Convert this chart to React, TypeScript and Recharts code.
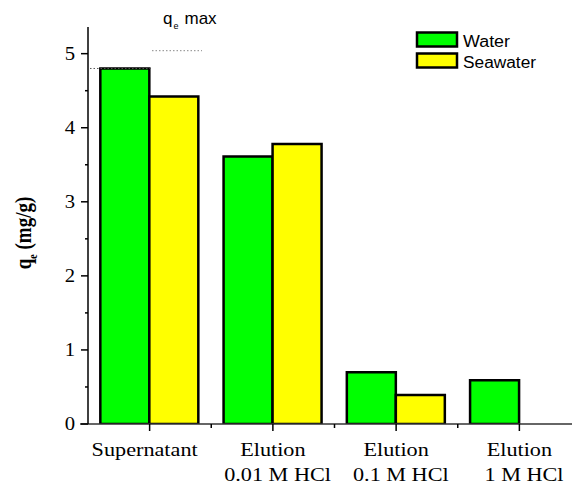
import { BarChart, Bar, XAxis, YAxis, ReferenceLine } from 'recharts';

const categories = ['Supernatant', 'Elution\n0.01 M HCl', 'Elution\n0.1 M HCl', 'Elution\n1 M HCl'];
const water = [4.8, 3.61, 0.7, 0.59];
const seawater = [4.42, 3.78, 0.39, null];
const yTicks = [0, 0.5, 1, 1.5, 2, 2.5, 3, 3.5, 4, 4.5, 5];
const qeMax = 5.04;

const series = [
  { key: 'water', name: 'Water', color: '#00ff00', textWidth: 47 },
  { key: 'seawater', name: 'Seawater', color: '#ffff00', textWidth: 73 },
];

const data = categories.map((name, i) => ({ name, water: water[i], seawater: seawater[i] }));

const serif = '"Liberation Serif", "Times New Roman", serif';
const sans = '"Liberation Sans", Arial, sans-serif';

const XTick = (props: any) => {
  const { x, y, payload, index } = props;
  const half = payload.offset || 61.6;
  const lines = String(payload.value).split('\n');
  return (
    <g>
      {index === 0 && <line x1={x - half - 8} y1={y} x2={x - half} y2={y} stroke="#333" strokeWidth={1.5} />}
      <line x1={x} y1={y} x2={x} y2={y + 7} stroke="#000" strokeWidth={1.5} />
      <line x1={x + half} y1={y} x2={x + half} y2={y + 4} stroke="#000" strokeWidth={1.5} />
      <g transform={`translate(${x - (lines.length === 1 ? 5 : 0)},${y}) scale(1.17,1)`}>
        {lines.map((t, i) => (
          <text key={i} x={i === 1 ? 4 : 0} y={32 + i * 25} textAnchor="middle" fontFamily={serif} fontSize={19} fill="#000">
            {t}
          </text>
        ))}
      </g>
    </g>
  );
};

const YTick = (props: any) => {
  const { x, y, payload } = props;
  const major = Number.isInteger(payload.value);
  return (
    <g>
      <line x1={x - (major ? 7 : 3)} y1={y} x2={x} y2={y} stroke="#000" strokeWidth={1.5} />
      {major && (
        <g transform={`translate(${x - 13},${y}) scale(1.15,1)`}>
          <text x={0} y={0} dy={6} textAnchor="end" fontFamily={serif} fontSize={18} fill="#000">
            {payload.value}
          </text>
        </g>
      )}
    </g>
  );
};

const LegendBox = () => (
  <svg width={150} height={44} style={{ position: 'absolute', left: 415, top: 30 }}>
    {series.map((s, i) => (
      <g key={s.key}>
        <rect x={2} y={2.5 + i * 21} width={40} height={14} fill={s.color} stroke="#000" strokeWidth={2.5} />
        <text x={48} y={16.5 + i * 21} fontFamily={sans} fontSize={16} fill="#000" textLength={s.textWidth} lengthAdjust="spacingAndGlyphs">
          {s.name}
        </text>
      </g>
    ))}
  </svg>
);

const QeMaxLine = (props: any) => {
  const { x1, y1 } = props;
  return (
    <g>
      <line x1={x1 + 64} y1={y1} x2={x1 + 114} y2={y1} stroke="#888" strokeWidth={1} strokeDasharray="1.5 2" />
      <text x={x1 + 75} y={y1 - 27} fontFamily={sans} fontSize={17} fill="#000">
        q
        <tspan fontSize={9} dx={1} dy={5}>e</tspan>
        <tspan dx={6} dy={-5}>max</tspan>
      </text>
    </g>
  );
};

const TopLine = (props: any) => {
  const { x1, y1 } = props;
  return <line x1={x1 + 2} y1={y1} x2={x1 + 65} y2={y1} stroke="#555" strokeWidth={1} strokeDasharray="1.5 2" />;
};

const YLabel = () => (
  <g transform="translate(31,233) scale(1.2,1) rotate(-90)">
    <text x={0} y={0} textAnchor="middle" fontFamily={serif} fontWeight="bold" fontSize={19} fill="#000">
      q
      <tspan fontSize={10} dy={5}>e</tspan>
      <tspan dy={-5}> (mg/g)</tspan>
    </text>
  </g>
);

export default function App() {
  return (
    <div style={{ position: 'absolute', left: 0, top: 0, width: 572, height: 483, overflow: 'hidden', background: '#fff' }}>
      <BarChart
        width={582}
        height={483}
        data={data}
        margin={{ top: 27, right: 1, bottom: 0, left: 0 }}
        barCategoryGap="10%"
        barGap={0}
      >
        <XAxis
          dataKey="name"
          interval={0}
          tickLine={false}
          tickSize={0}
          tickMargin={0}
          height={59}
          tick={XTick}
          axisLine={{ stroke: '#333', strokeWidth: 1.5 }}
        />
        <YAxis
          type="number"
          width={88}
          domain={[0, 5.36]}
          allowDataOverflow
          ticks={yTicks}
          interval={0}
          tickLine={false}
          tickSize={0}
          tickMargin={0}
          tick={YTick}
          axisLine={{ stroke: '#000', strokeWidth: 1.5 }}
          label={<YLabel />}
        />
        {series.map((s) => (
          <Bar key={s.key} dataKey={s.key} name={s.name} fill={s.color} stroke="#000" strokeWidth={2.5} isAnimationActive={false} />
        ))}
        <ReferenceLine y={water[0]} shape={TopLine} />
        <ReferenceLine y={qeMax} shape={QeMaxLine} />
      </BarChart>
      <LegendBox />
    </div>
  );
}
